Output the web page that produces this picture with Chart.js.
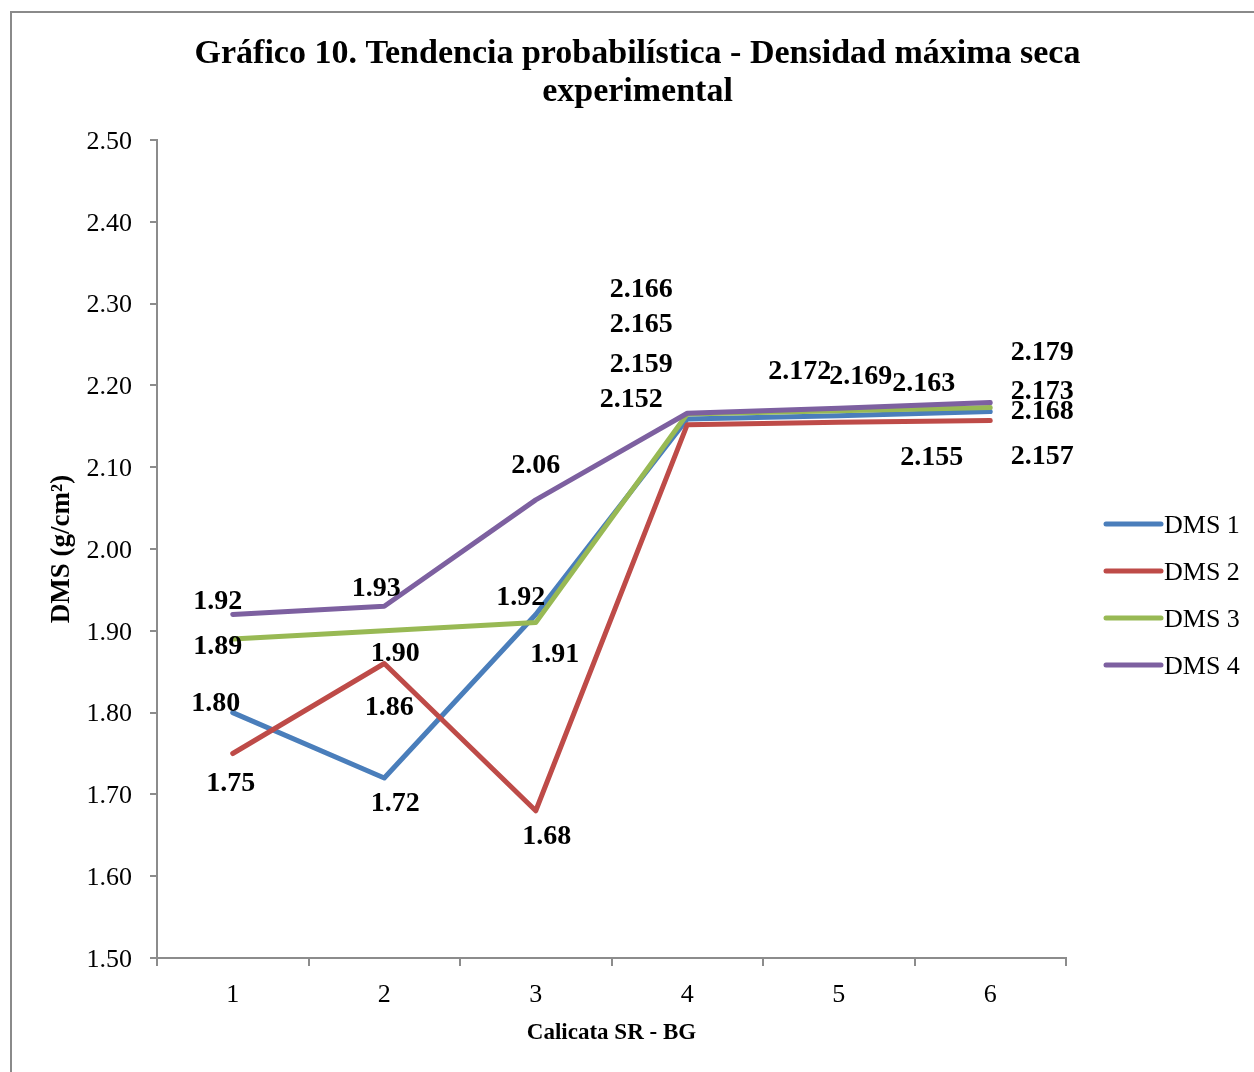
<!DOCTYPE html>
<html>
<head>
<meta charset="utf-8">
<script src="https://cdn.jsdelivr.net/npm/chart.js@4"></script>
<style>
html,body{margin:0;padding:0;background:#fff;overflow:hidden;}
#wrap{position:absolute;left:0;top:0;width:1254px;height:1072px;}
</style>
</head>
<body>
<div id="wrap"><canvas id="c"></canvas></div>
<script>
// ---- data ----
const categories = ['1', '2', '3', '4', '5', '6'];
const seriesNames = ['DMS 1', 'DMS 2', 'DMS 3', 'DMS 4'];
const dms1 = [1.80, 1.72, 1.92, 2.159, 2.163, 2.168];
const dms2 = [1.75, 1.86, 1.68, 2.152, 2.155, 2.157];
const dms3 = [1.89, 1.90, 1.91, 2.165, 2.169, 2.173];
const dms4 = [1.92, 1.93, 2.06, 2.166, 2.172, 2.179];
const labelDecimals = [2, 2, 2, 3, 3, 3];
const yTicks = [1.50, 1.60, 1.70, 1.80, 1.90, 2.00, 2.10, 2.20, 2.30, 2.40, 2.50];

// ---- styles ----
const colors = ['#4A7EBB', '#BE4B48', '#98B954', '#7D60A0'];
// label offsets [dx, dy] from each point (px)
const labelOffsets = [
  [[-17,-9],[11,26],[-15,-17],[-46,-54],[85,-32],[52,0]],
  [[-2,30],[5,44],[11,26],[-56,-25],[93,36],[52,36]],
  [[-15,8],[11,23],[19,32],[-46,-89],[22,-34],[52,-16]],
  [[-15,-13],[-8,-17],[0,-34],[-46,-123],[-39,-37],[52,-50]]
];
const FONT = "'Liberation Serif', 'Times New Roman', serif";
const AXIS = '#8c8c8c';

const allSeries = [dms1, dms2, dms3, dms4];

const labelPlugin = {
  id: 'pointLabels',
  afterDatasetsDraw(chart) {
    const ctx = chart.ctx;
    ctx.save();
    ctx.font = "bold 28px " + FONT;
    ctx.fillStyle = '#000';
    ctx.textAlign = 'center';
    ctx.textBaseline = 'middle';
    allSeries.forEach((vals, di) => {
      const meta = chart.getDatasetMeta(di);
      meta.data.forEach((pt, i) => {
        const off = labelOffsets[di][i];
        ctx.fillText(vals[i].toFixed(labelDecimals[i]), pt.x + off[0], pt.y + off[1]);
      });
    });
    ctx.restore();
  }
};

const legendPlugin = {
  id: 'sideLegend',
  afterDraw(chart) {
    const ctx = chart.ctx;
    const area = chart.chartArea;
    ctx.save();
    const x0 = area.right + 40, x1 = area.right + 95;
    const yStart = 524, step = 47;
    seriesNames.forEach((name, i) => {
      const y = yStart + i * step;
      ctx.strokeStyle = colors[i];
      ctx.lineWidth = 5;
      ctx.lineCap = 'round';
      ctx.beginPath();
      ctx.moveTo(x0, y);
      ctx.lineTo(x1, y);
      ctx.stroke();
      ctx.fillStyle = '#000';
      ctx.font = "26px " + FONT;
      ctx.textAlign = 'left';
      ctx.textBaseline = 'middle';
      ctx.fillText(name, x1 + 3, y + 2);
    });
    // outer frame
    ctx.strokeStyle = '#8a8a8a';
    ctx.lineWidth = 2;
    ctx.strokeRect(11, 12, 1400, 1400);
    ctx.restore();
  }
};

new Chart(document.getElementById('c'), {
  type: 'line',
  data: {
    labels: categories,
    datasets: allSeries.map((vals, i) => ({
      label: seriesNames[i],
      data: vals,
      borderColor: colors[i],
      backgroundColor: colors[i],
      borderWidth: 5,
      pointRadius: 0,
      pointHoverRadius: 0,
      tension: 0,
      fill: false,
      borderJoinStyle: 'round',
      borderCapStyle: 'round',
      order: 4 - i,
      yAxisID: 'y'
    }))
  },
  options: {
    responsive: true,
    maintainAspectRatio: false,
    animation: false,
    devicePixelRatio: 1,
    layout: { padding: { left: 21, top: 11, right: 0, bottom: 0 } },
    plugins: {
      legend: { display: false },
      tooltip: { enabled: false },
      title: {
        display: true,
        text: ['Gráfico 10. Tendencia probabilística - Densidad máxima seca', 'experimental'],
        color: '#000',
        font: { family: FONT, size: 34, weight: 'bold', lineHeight: 38/34 },
        padding: { top: 24, bottom: 29 }
      }
    },
    scales: {
      x: {
        type: 'category',
        offset: true,
        afterFit(s) { s.height = 114; },
        grid: { display: true, drawOnChartArea: false, drawTicks: true, tickLength: 8, color: AXIS, lineWidth: 2, offset: true },
        border: { display: true, color: AXIS, width: 2 },
        ticks: { color: '#000', font: { family: FONT, size: 26 }, padding: 14 },
        title: { display: true, text: 'Calicata SR - BG', color: '#000', font: { family: FONT, size: 23, weight: 'bold' }, padding: { top: 0, bottom: 25 } }
      },
      y: {
        position: 'left',
        min: 1.5,
        max: 2.5,
        afterFit(s) { s.width = 136; },
        afterBuildTicks(s) { s.ticks = yTicks.map(v => ({ value: v })); },
        grid: { display: true, drawOnChartArea: false, drawTicks: true, tickLength: 7, color: AXIS, lineWidth: 2 },
        border: { display: true, color: AXIS, width: 2 },
        ticks: { color: '#000', font: { family: FONT, size: 26 }, padding: 18, labelOffset: 2, callback: v => Number(v).toFixed(2) },
        title: { display: true, text: 'DMS (g/cm²)', color: '#000', font: { family: FONT, size: 27, weight: 'bold' }, padding: { top: 25, bottom: 0 } }
      },
      yR: {
        position: 'right',
        display: true,
        afterFit(s) { s.width = 188; },
        grid: { display: false },
        border: { display: false },
        ticks: { display: false }
      }
    }
  },
  plugins: [labelPlugin, legendPlugin]
});
</script>
</body>
</html>
